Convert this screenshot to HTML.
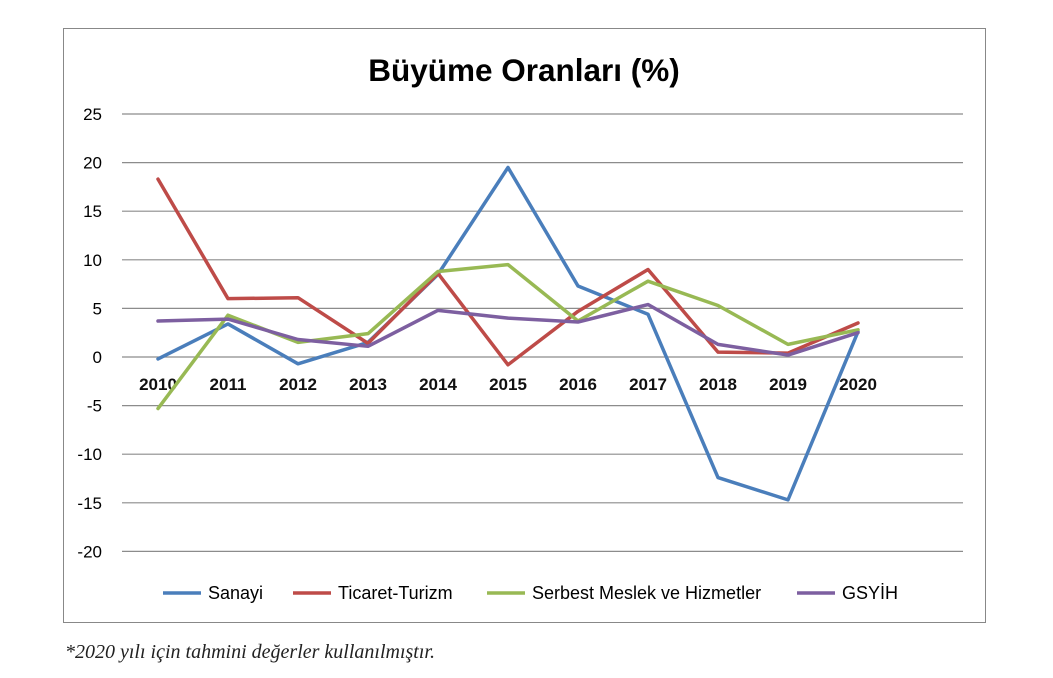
<!DOCTYPE html>
<html><head><meta charset="utf-8"><style>
body{margin:0;background:#fff;width:1053px;height:673px;overflow:hidden;font-family:"Liberation Sans",sans-serif}
</style></head><body>
<svg width="1053" height="673">
<rect x="63.5" y="28.5" width="922" height="594" fill="#fff" stroke="#888"/>
<text x="524" y="81" text-anchor="middle" font-size="31.5" font-weight="bold" fill="#000">Büyüme Oranları (%)</text>
<g id="grid"></g><g id="series"></g><g id="legend"></g>
<text x="65" y="658" font-family="Liberation Serif,serif" font-style="italic" font-size="20" fill="#222">*2020 yılı için tahmini değerler kullanılmıştır.</text>
</svg>
<script>
const years=["2010","2011","2012","2013","2014","2015","2016","2017","2018","2019","2020"];
const yTicks=[25,20,15,10,5,0,-5,-10,-15,-20];
const seriesNames=["Sanayi","Ticaret-Turizm","Serbest Meslek ve Hizmetler","GSYİH"];
const colors=["#4a7ebb","#be4b48","#98b954","#7d5fa0"];
const sanayi=[-0.2,3.4,-0.7,1.5,8.5,19.5,7.3,4.4,-12.4,-14.7,2.6];
const ticaret=[18.3,6.0,6.1,1.4,8.6,-0.8,4.7,9.0,0.5,0.4,3.5];
const serbest=[-5.3,4.3,1.5,2.4,8.8,9.5,3.7,7.8,5.3,1.3,2.8];
const gsyih=[3.7,3.9,1.8,1.1,4.8,4.0,3.6,5.4,1.3,0.2,2.5];
const data=[sanayi,ticaret,serbest,gsyih];
const NS="http://www.w3.org/2000/svg";
const y=v=>357-v*9.72;
const x=i=>158+i*70;
function mk(t,a,p){const e=document.createElementNS(NS,t);for(const k in a)e.setAttribute(k,a[k]);p.appendChild(e);return e;}
const g=document.getElementById('grid');
yTicks.forEach(v=>{
  const l=mk('line',{x1:122,x2:963,y1:y(v),y2:y(v),stroke:'#8c8c8c','stroke-width':1.2},g);
  
  
  const t=mk('text',{x:102,y:y(v)+6,'text-anchor':'end','font-size':17,fill:'#000'},g);
  t.textContent=v;
  
  
});
years.forEach((yr,i)=>{
  const t=mk('text',{x:x(i),y:390,'text-anchor':'middle','font-size':17,'font-weight':'bold',fill:'#111'},g);
  t.textContent=yr;
  
  
});
const s=document.getElementById('series');
data.forEach((d,k)=>{
  const p=mk('polyline',{points:d.map((v,i)=>x(i)+','+y(v)).join(' '),fill:'none',stroke:colors[k],'stroke-width':3.5,'stroke-linejoin':'round','stroke-linecap':'round'},s);
  
  
});
const lg=document.getElementById('legend');
const lx=[163,293,487,797];
seriesNames.forEach((n,k)=>{
  const l=mk('line',{x1:lx[k],x2:lx[k]+38,y1:593,y2:593,stroke:colors[k],'stroke-width':3.5},lg);
  
  
  const t=mk('text',{x:lx[k]+45,y:599,'font-size':18,fill:'#000'},lg);
  t.textContent=n;
  
  
});
</script>
</body></html>
